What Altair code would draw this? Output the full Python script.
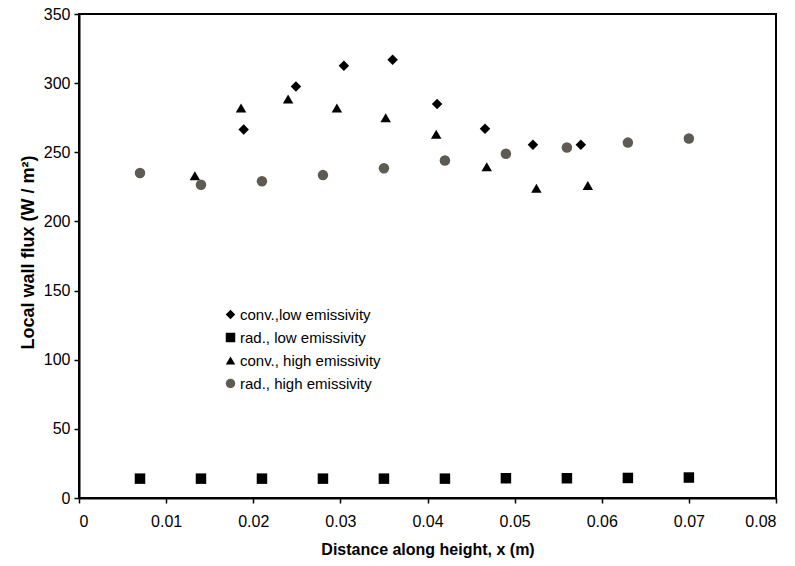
import altair as alt
import pandas as pd

series_names = ["conv.,low emissivity", "rad., low emissivity", "conv., high emissivity", "rad., high emissivity"]

conv_low_x = [0.0189, 0.0249, 0.0304, 0.0360, 0.0411, 0.0466, 0.0521, 0.0576]
conv_low_y = [266.5, 297.5, 312.5, 317.0, 285.0, 267.0, 255.5, 255.5]

rad_low_x = [0.007, 0.014, 0.021, 0.028, 0.035, 0.042, 0.049, 0.056, 0.063, 0.070]
rad_low_y = [14.0, 14.0, 14.0, 14.0, 14.0, 14.0, 14.3, 14.3, 14.5, 14.8]

conv_high_x = [0.0133, 0.0186, 0.0240, 0.0296, 0.0352, 0.0410, 0.0468, 0.0525, 0.0584]
conv_high_y = [233.0, 282.0, 288.5, 282.0, 275.0, 263.0, 239.5, 224.0, 226.0]

rad_high_x = [0.007, 0.014, 0.021, 0.028, 0.035, 0.042, 0.049, 0.056, 0.063, 0.070]
rad_high_y = [235.0, 226.5, 229.0, 233.5, 238.5, 244.0, 249.0, 253.5, 257.0, 260.0]

rows = []
for name, xs, ys in zip(series_names,
                        [conv_low_x, rad_low_x, conv_high_x, rad_high_x],
                        [conv_low_y, rad_low_y, conv_high_y, rad_high_y]):
    for xv, yv in zip(xs, ys):
        rows.append({"series": name, "x": xv, "y": yv})
df = pd.DataFrame(rows)

FONT = "Liberation Sans"

chart = alt.Chart(df).mark_point(filled=True, opacity=1, size=110, strokeWidth=0).encode(
    x=alt.X("x:Q", title="Distance along height, x (m)",
            scale=alt.Scale(domain=[0, 0.08], nice=False),
            axis=alt.Axis(values=[0, 0.01, 0.02, 0.03, 0.04, 0.05, 0.06, 0.07, 0.08], format=".2~f",
                          grid=False, domainColor="black", domainWidth=2, tickColor="black",
                          tickSize=5, tickWidth=1.5, labelFont=FONT, labelFontSize=16, labelColor="black",
                          labelPadding=10, titleFont=FONT, titleFontSize=16, titleFontWeight="bold",
                          titleColor="black", titlePadding=12)),
    y=alt.Y("y:Q", title="Local wall flux (W / m²)",
            scale=alt.Scale(domain=[0, 350], nice=False),
            axis=alt.Axis(values=[0, 50, 100, 150, 200, 250, 300, 350], grid=False,
                          domainColor="black", domainWidth=2, tickColor="black", tickSize=5,
                          tickWidth=1.5, labelFont=FONT, labelFontSize=16, labelColor="black",
                          labelPadding=4, titleFont=FONT, titleFontSize=18, titleFontWeight="bold",
                          titleColor="black", titlePadding=6, titleY=238)),
    shape=alt.Shape("series:N", title=None,
                    scale=alt.Scale(domain=series_names,
                                    range=["diamond", "square", "triangle-up", "circle"])),
    color=alt.Color("series:N", title=None,
                    scale=alt.Scale(domain=series_names,
                                    range=["black", "black", "black", "#5d5b53"])),
).properties(
    width=697, height=484,
    padding={"left": 79, "top": 14, "right": 19, "bottom": 68},
    autosize=alt.AutoSizeParams(type="none"),
).configure_view(
    stroke="black", strokeWidth=2
).configure_legend(
    orient="none", legendX=144, legendY=293, padding=0,
    labelFont=FONT, labelFontSize=15, labelColor="black",
    symbolSize=90, symbolStrokeWidth=0, rowPadding=7, labelOffset=2,
    symbolOpacity=1
)

chart.save("out.html", embed_options={"renderer": "svg", "actions": False})
